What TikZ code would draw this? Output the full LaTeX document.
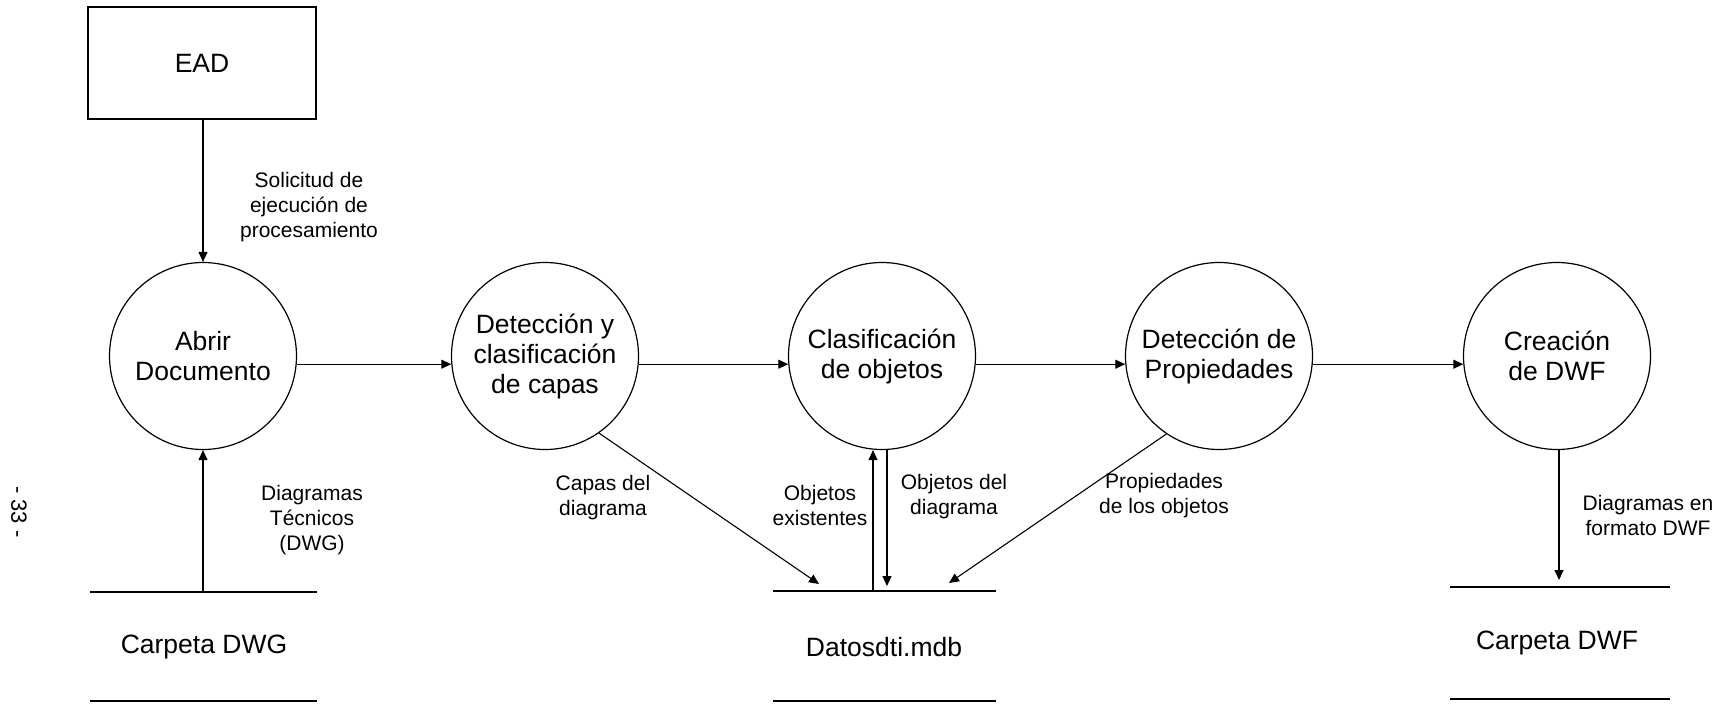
\documentclass[tikz,border=0pt]{standalone}
\usepackage{fontspec}
\setmainfont{Liberation Sans}
\usetikzlibrary{arrows.meta}
\begin{document}
\begin{tikzpicture}[x=1pt,y=-1pt,
  proc/.style={circle,draw,line width=1.2pt,minimum size=187pt,inner sep=0pt,align=center,font=\fontsize{26.5}{30}\selectfont},
  lbl/.style={align=center,font=\fontsize{21}{25}\selectfont,inner sep=0pt},
  big/.style={font=\fontsize{26.5}{32}\selectfont,inner sep=0pt},
  flow/.style={line width=1.1pt,-{Triangle[length=10pt,width=9pt]}},
  storeline/.style={line width=1.3pt}]
\useasboundingbox (0,0) rectangle (1723,704);
\fill[white] (0,0) rectangle (1723,704);

% external entity
\node[draw,line width=1.2pt,minimum width=228pt,minimum height=112pt,inner sep=0pt,big] (ead) at (202,63) {EAD};

% processes
\node[proc] (c1) at (203,356) {Abrir\\Documento};
\node[proc] (c2) at (545,356) {Detección y\\clasificación\\de capas};
\node[proc] (c3) at (882,356) {Clasificación\\de objetos};
\node[proc] (c4) at (1219,356) {Detección de\\Propiedades};
\node[proc] (c5) at (1557,356) {Creación\\de DWF};

% data stores
\coordinate (dwgA) at (90,592);  \coordinate (dwgB) at (317,592);
\coordinate (dwgC) at (90,701);  \coordinate (dwgD) at (317,701);
\node[big] (dwg) at (204,647) {Carpeta DWG};
\coordinate (dbA) at (773,591);  \coordinate (dbB) at (996,591);
\coordinate (dbC) at (773,701);  \coordinate (dbD) at (996,701);
\node[big] (db) at (884,647) {Datosdti.mdb};
\coordinate (dwfA) at (1450,587); \coordinate (dwfB) at (1670,587);
\coordinate (dwfC) at (1450,699); \coordinate (dwfD) at (1670,699);
\node[big] (dwf) at (1557,643) {Carpeta DWF};
\draw[storeline] (dwgA) -- (dwgB) (dwgC) -- (dwgD);
\draw[storeline] (dbA) -- (dbB) (dbC) -- (dbD);
\draw[storeline] (dwfA) -- (dwfB) (dwfC) -- (dwfD);

% flows
\draw[flow] (ead.south -| c1) -- (c1.north);
\coordinate (dwgOut) at (203,592);
\draw[flow] (dwgOut) -- (c1.south);
\draw[flow] (c1.-5) -- (c2.185);
\draw[flow] (c2.-5) -- (c3.185);
\draw[flow] (c3.-5) -- (c4.185);
\draw[flow] (c4.-5) -- (c5.185);
\coordinate (capasEnd) at (819,584);
\draw[flow] (c2.-55) -- (capasEnd);
\coordinate (exOut) at (873,591);
\draw[flow] (exOut) -- (exOut |- c3.south);
\coordinate (objEnd) at (887,586);
\draw[flow] (objEnd |- c3.south) -- (objEnd);
\coordinate (propEnd) at (949,583);
\draw[flow] (c4.-124) -- (propEnd);
\coordinate (dwfIn) at (1559,580);
\draw[flow] (c5.south -| dwfIn) -- (dwfIn);

% labels
\node[lbl] (l1) at (309,207) {Solicitud de\\ejecución de\\procesamiento};
\node[lbl] (l2) at (312,520) {Diagramas\\Técnicos\\(DWG)};
\node[lbl] (l3) at (603,498) {Capas del\\diagrama};
\node[lbl] (l4) at (820,505) {Objetos\\existentes};
\node[lbl] (l5) at (954,497) {Objetos del\\diagrama};
\node[lbl] (l6) at (1164,496) {Propiedades\\de los objetos};
\node[lbl] (l7) at (1648,515) {Diagramas en\\formato DWF};
\node[font=\fontsize{22}{26}\selectfont,rotate=-90,inner sep=0pt] (pg) at (19,512) {- 33 -};
\end{tikzpicture}
\end{document}
